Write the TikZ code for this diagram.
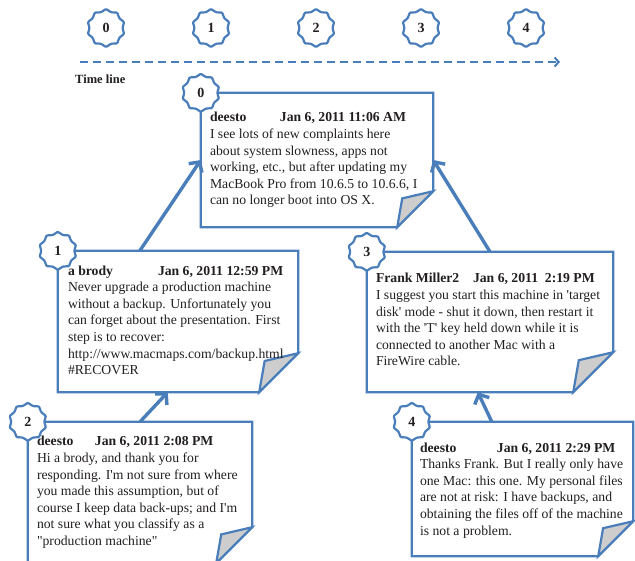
\documentclass[tikz,border=0pt]{standalone}
\usepackage{fontspec}
\setmainfont{Liberation Serif}
\usepackage{tikz}
\usetikzlibrary{arrows.meta,positioning,shapes.geometric}
\definecolor{noteblue}{RGB}{74,126,187}
\definecolor{foldgray}{RGB}{205,205,205}
\definecolor{inkgray}{RGB}{35,31,32}
% outline of a note with its folded corner
\newcommand{\dogear}[2]{%
  \draw[noteline] (#1.north west) -- (#1.north east)
    -- ([yshift=#2]#1.south east) -- ([xshift=-#2]#1.south east)
    -- (#1.south west) -- cycle;
  \draw[noteline,fill=foldgray] ([yshift=#2]#1.south east)
    -- ([xshift=-0.86*#2,yshift=0.8*#2]#1.south east)
    -- ([xshift=-#2]#1.south east) -- cycle;
}
\newcommand{\sq}{\textquotesingle}
\newcommand{\dq}{\textquotedbl}

\begin{document}
\begin{tikzpicture}[
    x=1pt, y=-1pt,
    note/.style={rectangle, inner sep=0pt},
    noteline/.style={draw=noteblue, line width=2.2pt, line join=miter},
    seal/.style={star, star points=10, star point ratio=1.15, draw=noteblue,
                 line width=2.2pt, fill=white, minimum size=38pt, inner sep=0pt,
                 rounded corners=0.8pt,
                 text=inkgray, font=\fontsize{14}{14}\selectfont\bfseries},
    body/.style={inner sep=0pt, align=left, text=inkgray,
                 font=\fontsize{13.7}{16.6}\selectfont},
    link/.style={draw=noteblue, line width=3.4pt,
                 -{Straight Barb[length=7.5pt,width=16pt]}},
    timeline/.style={draw=noteblue, line width=2pt, dash pattern=on 8pt off 5pt,
                 -{Straight Barb[length=4pt,width=9pt]}},
]
  \useasboundingbox (0,0) rectangle (635,560);
  \clip (0,0) rectangle (635,560);

  % Time line
  \coordinate (tl-a) at (80,62);
  \coordinate (tl-b) at (560,62);
  \draw[timeline] (tl-a) -- (tl-b);
  \node[anchor=base west, inner sep=0pt, text=inkgray,
        font=\fontsize{12.5}{12.5}\selectfont\bfseries] (tl-label) at (75,83) {Time line};
  \foreach \i in {0,...,4}
    \node[seal] (t\i) at ({106+105*\i},28) {\i};

  % Notes
  \node[note, minimum width=232pt, minimum height=134pt] (b0) at (317,160) {};
  \node[note, minimum width=240pt, minimum height=141pt] (b1) at (178,321.5) {};
  \node[note, minimum width=246pt, minimum height=140pt] (b3) at (490,322) {};
  \node[note, minimum width=224pt, minimum height=141pt] (b2) at (140,492.5) {};
  \node[note, minimum width=221pt, minimum height=134pt] (b4) at (522.5,489) {};
  \dogear{b0}{36pt}
  \dogear{b1}{39pt}
  \dogear{b3}{40pt}
  \dogear{b2}{36pt}
  \dogear{b4}{35pt}

  % Texts
  \node[body, below right=19.3pt and 9pt of b0.north west] (b0-text) {%
    \makebox[70pt][l]{\textbf{deesto}}\textbf{Jan 6, 2011 11:06 AM}\\
    I see lots of new complaints here\\
    about system slowness, apps not\\
    working, etc., but after updating my\\
    MacBook Pro from 10.6.5 to 10.6.6, I\\
    can no longer boot into OS X.};
  \node[body, below right=14.6pt and 10pt of b1.north west] (b1-text) {%
    \makebox[90pt][l]{\textbf{a brody}}\textbf{Jan 6, 2011 12:59 PM}\\
    Never upgrade a production machine\\
    without a backup. Unfortunately you\\
    can forget about the presentation. First\\
    step is to recover:\\
    http://www.macmaps.com/backup.html\\
    \#RECOVER};
  \node[body, below right=21.3pt and 9pt of b3.north west] (b3-text) {%
    \makebox[97pt][l]{\textbf{Frank Miller2}}\textbf{Jan 6, 2011\ \ 2:19 PM}\\
    I suggest you start this machine in \sq target\\
    disk\sq{} mode - shut it down, then restart it\\
    with the \sq T\sq{} key held down while it is\\
    connected to another Mac with a\\
    FireWire cable.};
  \node[body, below right=14.3pt and 9pt of b2.north west] (b2-text) {%
    \makebox[58pt][l]{\textbf{deesto}}\textbf{Jan 6, 2011 2:08 PM}\\
    Hi a brody, and thank you for\\
    responding. I\sq m not sure from where\\
    you made this assumption, but of\\
    course I keep data back-ups; and I\sq m\\
    not sure what you classify as a\\
    \dq production machine\dq};
  \node[body, below right=20.6pt and 8pt of b4.north west] (b4-text) {%
    \makebox[77pt][l]{\textbf{deesto}}\textbf{Jan 6, 2011 2:29 PM}\\
    Thanks Frank. But I really only have\\
    one Mac: this one. My personal files\\
    are not at risk: I have backups, and\\
    obtaining the files off of the machine\\
    is not a problem.};

  % Replies
  \draw[link] ([xshift=82pt]b1.north west) -- (b0.west);
  \draw[link] (b3.north) -- (b0.east);
  \draw[link] (b2.north) -- ([xshift=110pt]b1.south west);
  \draw[link] ([xshift=80pt]b4.north west) -- ([xshift=111pt]b3.south west);

  % Badges
  \node[seal] (s0) at (b0.north west) {0};
  \node[seal] (s1) at (b1.north west) {1};
  \node[seal] (s3) at (b3.north west) {3};
  \node[seal] (s2) at (b2.north west) {2};
  \node[seal] (s4) at (b4.north west) {4};
\end{tikzpicture}
\end{document}
